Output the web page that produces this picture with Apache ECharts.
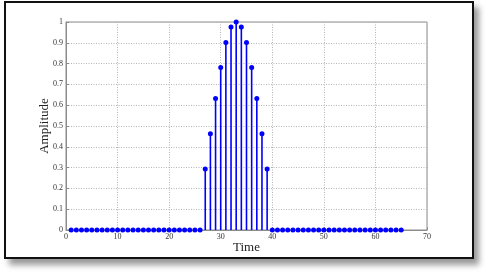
<!DOCTYPE html>
<html><head><meta charset="utf-8">
<script src="https://cdn.jsdelivr.net/npm/echarts@6/dist/echarts.min.js"></script>
<style>
html,body{margin:0;padding:0;background:#fff;width:488px;height:275px;overflow:hidden;}
#frame{position:absolute;left:4px;top:1px;width:466px;height:254px;border:2px solid #111;background:#fff;box-shadow:5px 6px 6px rgba(0,0,0,0.4);}
#chart{position:absolute;left:0;top:0;width:488px;height:275px;}
</style></head>
<body>
<div id="frame"></div>
<div id="chart"></div>
<script>
const timeSteps = [1,2,3,4,5,6,7,8,9,10,11,12,13,14,15,16,17,18,19,20,21,22,23,24,25,26,27,28,29,30,31,32,33,34,35,36,37,38,39,40,41,42,43,44,45,46,47,48,49,50,51,52,53,54,55,56,57,58,59,60,61,62,63,64,65];
const amplitude = [0,0,0,0,0,0,0,0,0,0,0,0,0,0,0,0,0,0,0,0,0,0,0,0,0,0,
  0.293,0.463,0.632,0.781,0.901,0.976,1.0,0.976,0.901,0.781,0.632,0.463,0.293,
  0,0,0,0,0,0,0,0,0,0,0,0,0,0,0,0,0,0,0,0,0,0,0,0,0,0,0];
const xTicks = [0,10,20,30,40,50,60,70];
const yTicks = [0,0.1,0.2,0.3,0.4,0.5,0.6,0.7,0.8,0.9,1];

const pts = timeSteps.map((t,i)=>[t, amplitude[i]]);
const chart = echarts.init(document.getElementById('chart'), null, {renderer:'canvas'});
const serif = 'Liberation Serif, Times New Roman, serif';
const blue = '#0000ff';
chart.setOption({
  animation:false,
  backgroundColor:'transparent',
  grid:{left:66,right:61,top:22,bottom:45,show:true,borderColor:'#8c8c8c',borderWidth:1,backgroundColor:'transparent'},
  xAxis:{type:'value',min:xTicks[0],max:xTicks[xTicks.length-1],interval:10,
    name:'Time',nameLocation:'middle',nameGap:11,nameMoveOverlap:false,
    nameTextStyle:{fontFamily:serif,fontSize:13,color:'#222',verticalAlign:'top'},
    axisLine:{show:true,lineStyle:{color:'#8c8c8c'}},
    axisTick:{show:true,inside:true,length:3,lineStyle:{color:'#8c8c8c'}},
    axisLabel:{fontFamily:serif,fontSize:8,color:'#333',margin:3},
    splitLine:{show:true,lineStyle:{color:'#b5b5b5',type:[1,1.5],width:1}}},
  yAxis:{type:'value',min:yTicks[0],max:yTicks[yTicks.length-1],interval:0.1,
    name:'Amplitude',nameLocation:'middle',nameGap:15,nameMoveOverlap:false,
    nameTextStyle:{fontFamily:serif,fontSize:13,color:'#222'},
    axisLine:{show:true,lineStyle:{color:'#8c8c8c'}},
    axisTick:{show:true,inside:true,length:3,lineStyle:{color:'#8c8c8c'}},
    axisLabel:{fontFamily:serif,fontSize:8,color:'#333',margin:3},
    splitLine:{show:true,lineStyle:{color:'#b5b5b5',type:[1,1.5],width:1}}},
  series:[
    {type:'custom',data:pts,clip:false,z:2,
      renderItem:function(params,api){
        const x=api.value(0), y=api.value(1);
        const p0=api.coord([x,0]), p1=api.coord([x,y]);
        return {type:'line',shape:{x1:p0[0],y1:p0[1],x2:p1[0],y2:p1[1]},
          style:{stroke:blue,lineWidth:1.6}};
      }},
    {type:'scatter',data:pts,symbol:'circle',symbolSize:5,z:3,
      itemStyle:{color:blue,opacity:1}}
  ]
});
</script>
</body></html>
